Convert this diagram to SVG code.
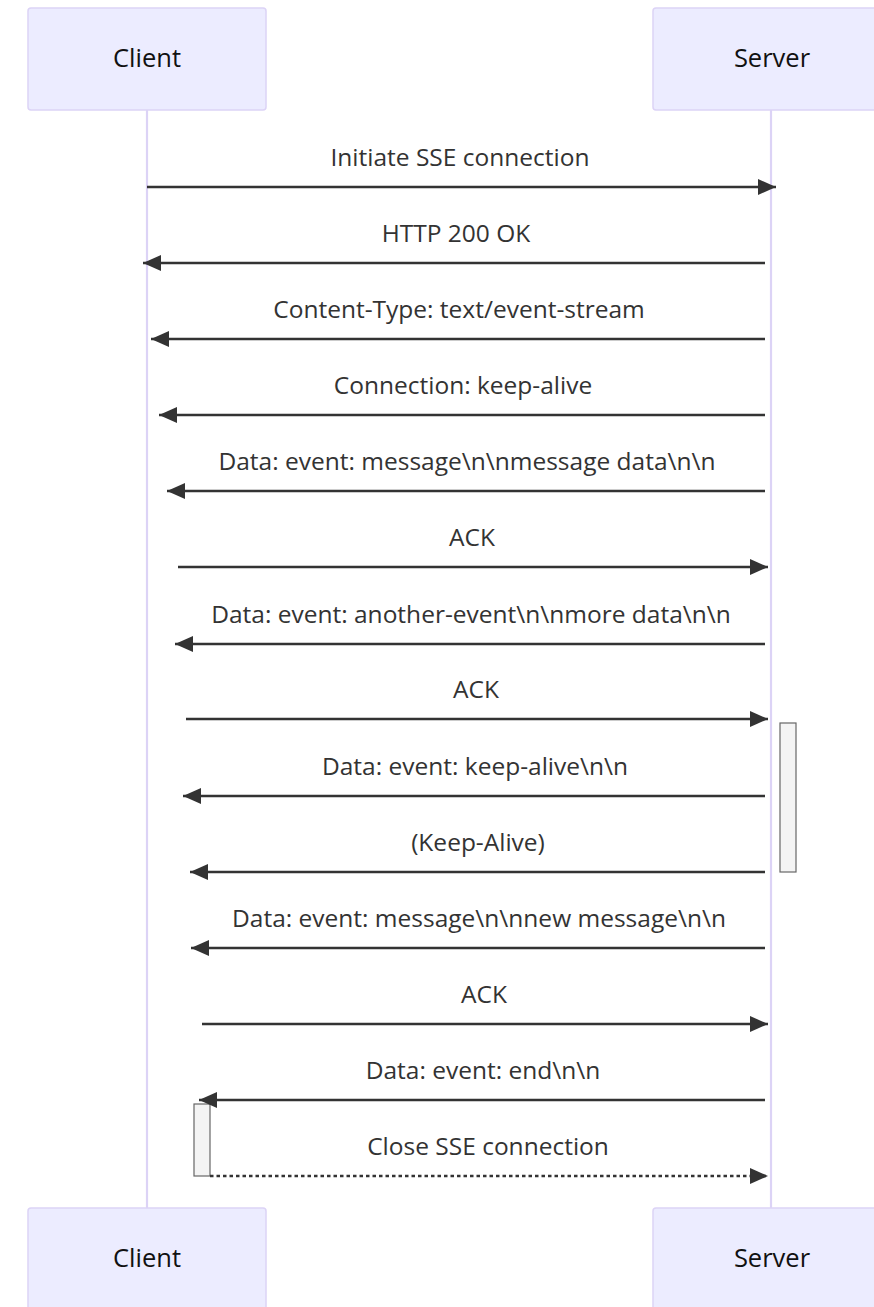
<svg xmlns="http://www.w3.org/2000/svg" width="874" height="1307" viewBox="0 0 874 1307">
<style>
.actor{fill:#ECECFF;stroke:#DCD3F6;stroke-width:1.5}
.atext{font-family:"Open Sans","DejaVu Sans",sans-serif;font-size:25.5px;fill:#111;text-anchor:middle}
.life{stroke:#DCD3F6;stroke-width:2.2}
.msg{stroke:#333;stroke-width:2.4;fill:none}
.dash{stroke-dasharray:3.5 3}
.mtext{font-family:"Open Sans","DejaVu Sans",sans-serif;font-size:24.5px;fill:#333;text-anchor:middle}
.act{fill:#F4F4F4;stroke:#666;stroke-width:1.2}
</style>
<defs>
<marker id="ah" viewBox="0 0 18 16" refX="18" refY="8" markerWidth="18" markerHeight="16" markerUnits="userSpaceOnUse" orient="auto">
<path d="M0,0 L18,8 L0,16 Z" fill="#333"/>
</marker>
</defs>
<g id="lifelines">
<line class="life" x1="147" y1="110" x2="147" y2="1208"/>
<line class="life" x1="771" y1="110" x2="771" y2="1208"/>
</g>
<g id="client-top"><rect class="actor" x="28" y="8" width="238" height="102" rx="3"/><text class="atext" x="147" y="67">Client</text></g>
<g id="server-top"><rect class="actor" x="653" y="8" width="238" height="102" rx="3"/><text class="atext" x="772" y="67">Server</text></g>
<g id="client-bottom"><rect class="actor" x="28" y="1208" width="238" height="102" rx="3"/><text class="atext" x="147" y="1267">Client</text></g>
<g id="server-bottom"><rect class="actor" x="653" y="1208" width="238" height="102" rx="3"/><text class="atext" x="772" y="1267">Server</text></g>
<g id="activations">
<rect class="act" x="780" y="723" width="16" height="149"/>
<rect class="act" x="194" y="1104" width="16" height="72"/>
</g>
<g id="connectors">
<line class="msg" x1="147" y1="187" x2="776" y2="187" marker-end="url(#ah)"/>
<line class="msg" x1="765" y1="263" x2="143" y2="263" marker-end="url(#ah)"/>
<line class="msg" x1="765" y1="339" x2="151" y2="339" marker-end="url(#ah)"/>
<line class="msg" x1="765" y1="415" x2="159" y2="415" marker-end="url(#ah)"/>
<line class="msg" x1="765" y1="491" x2="167" y2="491" marker-end="url(#ah)"/>
<line class="msg" x1="178" y1="567" x2="768" y2="567" marker-end="url(#ah)"/>
<line class="msg" x1="765" y1="644" x2="175" y2="644" marker-end="url(#ah)"/>
<line class="msg" x1="186" y1="719" x2="768" y2="719" marker-end="url(#ah)"/>
<line class="msg" x1="765" y1="796" x2="183" y2="796" marker-end="url(#ah)"/>
<line class="msg" x1="765" y1="872" x2="190" y2="872" marker-end="url(#ah)"/>
<line class="msg" x1="765" y1="948" x2="191" y2="948" marker-end="url(#ah)"/>
<line class="msg" x1="202" y1="1024" x2="768" y2="1024" marker-end="url(#ah)"/>
<line class="msg" x1="765" y1="1100" x2="199" y2="1100" marker-end="url(#ah)"/>
<line class="msg dash" x1="210" y1="1176" x2="768" y2="1176" marker-end="url(#ah)"/>
</g>
<g id="labels">
<text class="mtext" x="460" y="166">Initiate SSE connection</text>
<text class="mtext" x="456" y="242">HTTP 200 OK</text>
<text class="mtext" x="459" y="318">Content-Type: text/event-stream</text>
<text class="mtext" x="463" y="394">Connection: keep-alive</text>
<text class="mtext" x="467" y="470">Data: event: message\n\nmessage data\n\n</text>
<text class="mtext" x="472" y="546">ACK</text>
<text class="mtext" x="471" y="623">Data: event: another-event\n\nmore data\n\n</text>
<text class="mtext" x="476" y="698">ACK</text>
<text class="mtext" x="475" y="775">Data: event: keep-alive\n\n</text>
<text class="mtext" x="478" y="851">(Keep-Alive)</text>
<text class="mtext" x="479" y="927">Data: event: message\n\nnew message\n\n</text>
<text class="mtext" x="484" y="1003">ACK</text>
<text class="mtext" x="483" y="1079">Data: event: end\n\n</text>
<text class="mtext" x="488" y="1155">Close SSE connection</text>
</g>
</svg>
